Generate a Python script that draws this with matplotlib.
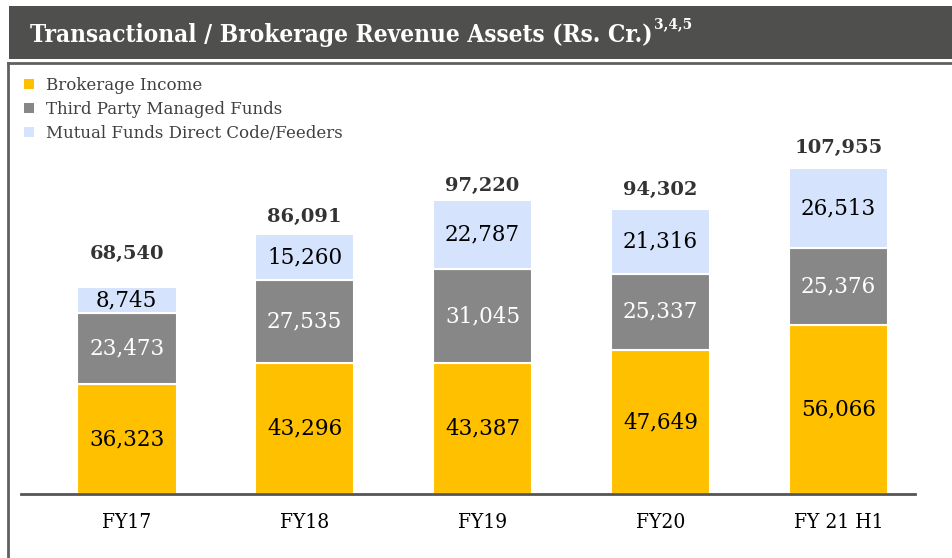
import matplotlib.pyplot as plt
import numpy as np
from matplotlib.patches import Rectangle

# Data
years = ['FY17', 'FY18', 'FY19', 'FY20', 'FY 21 H1']
brokerage = [36323, 43296, 43387, 47649, 56066]
third_party = [23473, 27535, 31045, 25337, 25376]
mf_direct = [8745, 15260, 22787, 21316, 26513]
totals = [68540, 86091, 97220, 94302, 107955]

# gap (pixels) between bar top and the total label, as placed in the source slide
total_gap_px = [33, 17, 14, 19, 20]

c_yellow = '#FFC000'
c_gray = '#878787'
c_blue = '#D6E3FC'

plt.rcParams['font.family'] = ['DejaVu Serif']

fig = plt.figure(figsize=(9.53, 5.58), dpi=100)
W, H = 953, 558

# title bar
fig.patches.append(Rectangle((9 / W, 1 - 59 / H), 944 / W, 53 / H, transform=fig.transFigure,
                             facecolor='#4F4F4D', edgecolor='none'))
title = fig.text(30 / W, 1 - 35 / H, 'Transactional / Brokerage Revenue Assets (Rs. Cr.)',
                 color='white', fontsize=17.5, fontweight='bold', fontstretch='condensed',
                 va='center')
fig.canvas.draw()
bb = title.get_window_extent()
fig.text(bb.x1 / W + 1 / W, 1 - 24 / H, '3,4,5', color='white', fontsize=11,
         fontweight='bold', fontstretch='condensed', va='center')

# frame around chart
fig.add_artist(plt.Line2D([8.5 / W, 8.5 / W], [0, 1 - 63 / H], transform=fig.transFigure,
                          color='#606060', lw=2))
fig.add_artist(plt.Line2D([8.5 / W, 1], [1 - 63 / H, 1 - 63 / H], transform=fig.transFigure,
                          color='#606060', lw=2))

ax = fig.add_axes([21 / W, 1 - 494 / H, (915 - 21) / W, (494 - 150) / H])
x = np.arange(len(years))
w = 0.56
b1 = ax.bar(x, brokerage, w, color=c_yellow, edgecolor='white', lw=1.5)
bottom2 = np.array(brokerage)
b2 = ax.bar(x, third_party, w, bottom=bottom2, color=c_gray, edgecolor='white', lw=1.5)
bottom3 = bottom2 + np.array(third_party)
b3 = ax.bar(x, mf_direct, w, bottom=bottom3, color=c_blue, edgecolor='white', lw=1.5)

px = 68540 / 207  # data units per pixel
for i in range(len(years)):
    ax.text(x[i], brokerage[i] / 2, f'{brokerage[i]:,}', ha='center', va='center',
            fontsize=15.5, color='black')
    ax.text(x[i], bottom2[i] + third_party[i] / 2, f'{third_party[i]:,}', ha='center',
            va='center', fontsize=15.5, color='white')
    ax.text(x[i], bottom3[i] + mf_direct[i] / 2, f'{mf_direct[i]:,}', ha='center',
            va='center', fontsize=15.5, color='black')
    ax.text(x[i], totals[i] + total_gap_px[i] * px, f'{totals[i]:,}', ha='center',
            va='center', fontsize=14, fontweight='bold', color='#333333')

ax.set_ylim(0, (494 - 150) * px)
ax.set_xlim(-0.594, 4.43)
ax.set_xticks(x)
ax.set_xticklabels(years, fontsize=15, fontstretch='condensed')
ax.tick_params(axis='x', length=0, pad=14)
ax.set_yticks([])
for s in ['top', 'right', 'left']:
    ax.spines[s].set_visible(False)
ax.spines['bottom'].set_color('#555555')
ax.spines['bottom'].set_linewidth(2)

# legend
leg = fig.legend([b1, b2, b3],
                 ['Brokerage Income', 'Third Party Managed Funds', 'Mutual Funds Direct Code/Feeders'],
                 loc='upper left', bbox_to_anchor=(24 / W, 1 - 77 / H), frameon=False,
                 fontsize=12, handlelength=0.6, handleheight=0.6, handletextpad=0.7,
                 labelspacing=0.42, borderpad=0, borderaxespad=0)
for t in leg.get_texts():
    t.set_color('#404040')
for h in leg.legend_handles:
    h.set_edgecolor('none')

fig.savefig('out.png', dpi=100)
